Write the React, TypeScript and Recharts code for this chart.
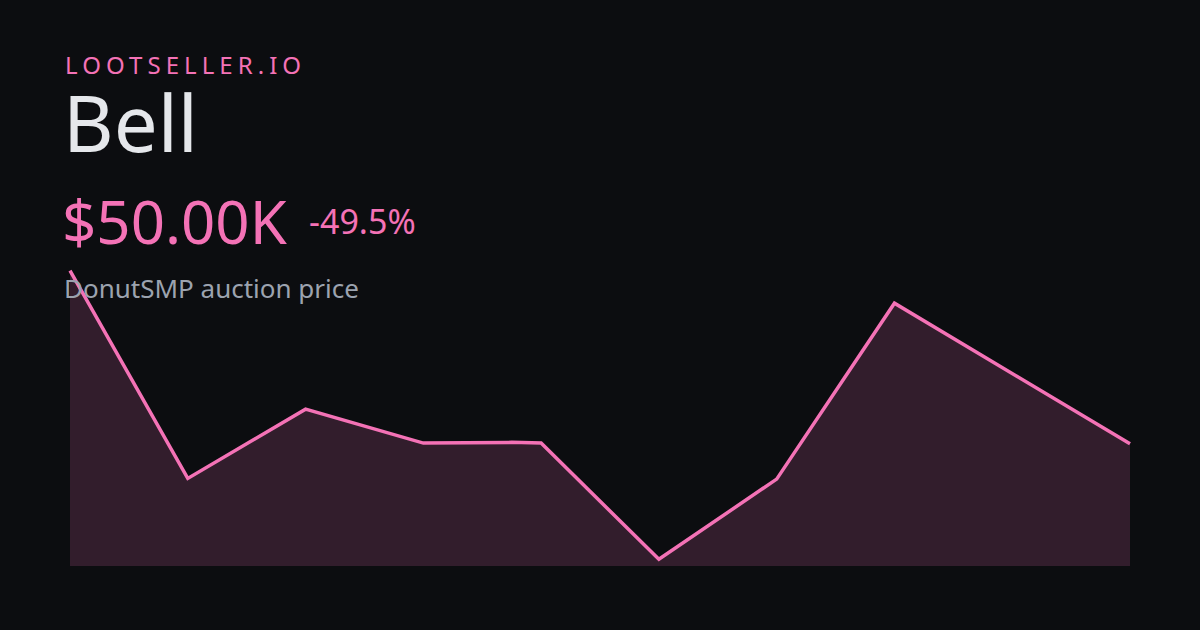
import { AreaChart, Area, XAxis, YAxis } from "recharts";

// day offsets of each sale and the price in thousands
const days = [0, 1, 2, 3, 3.75, 4, 5, 6, 7, 9];
const prices = [99.0, 40.2, 59.8, 50.2, 50.4, 50.2, 17.3, 40.0, 89.8, 50.0];

const brand = "LOOTSELLER.IO";
const itemName = "Bell";
const priceLabel = "$50.00K";
const changeLabel = "-49.5%";
const subtitle = "DonutSMP auction price";

const PINK = "#f472b6";
const BG = "#0c0d10";
const FONT = "'Noto Sans', 'Open Sans', sans-serif";

export default function App() {
  const data = days.map((day, i) => ({ day, price: prices[i] }));

  return (
    <div
      style={{
        position: "fixed",
        top: 0,
        left: 0,
        width: 1200,
        height: 630,
        background: BG,
        overflow: "hidden",
        fontFamily: FONT,
      }}
    >
      <AreaChart
        width={1200}
        height={630}
        data={data}
        margin={{ top: 264, right: 70, bottom: 64, left: 70 }}
      >
        <XAxis dataKey="day" type="number" domain={[0, 9]} hide />
        <YAxis type="number" domain={[15.4, 100.9]} hide />
        <Area
          type="linear"
          dataKey="price"
          stroke={PINK}
          strokeWidth={3.5}
          fill={PINK}
          fillOpacity={0.17}
          dot={false}
          activeDot={false}
          isAnimationActive={false}
        />
      </AreaChart>

      <svg
        width={1200}
        height={630}
        style={{ position: "absolute", top: 0, left: 0, pointerEvents: "none" }}
      >
        <text x={65} y={73.5} fill={PINK} fontSize={24} letterSpacing={5.05} fontFamily={FONT}>
          {brand}
        </text>
        <text x={63} y={151.5} fill="#e5e7eb" fontSize={78} fontFamily={FONT}>
          {itemName}
        </text>
        <text x={62} y={243.5} fill={PINK} fontSize={60} fontFamily={FONT}>
          {priceLabel}
        </text>
        <text x={309} y={234} fill={PINK} fontSize={34} fontFamily={FONT}>
          {changeLabel}
        </text>
        <text x={64} y={298} fill="#9ca3af" fontSize={26} fontFamily={FONT}>
          {subtitle}
        </text>
      </svg>
    </div>
  );
}
